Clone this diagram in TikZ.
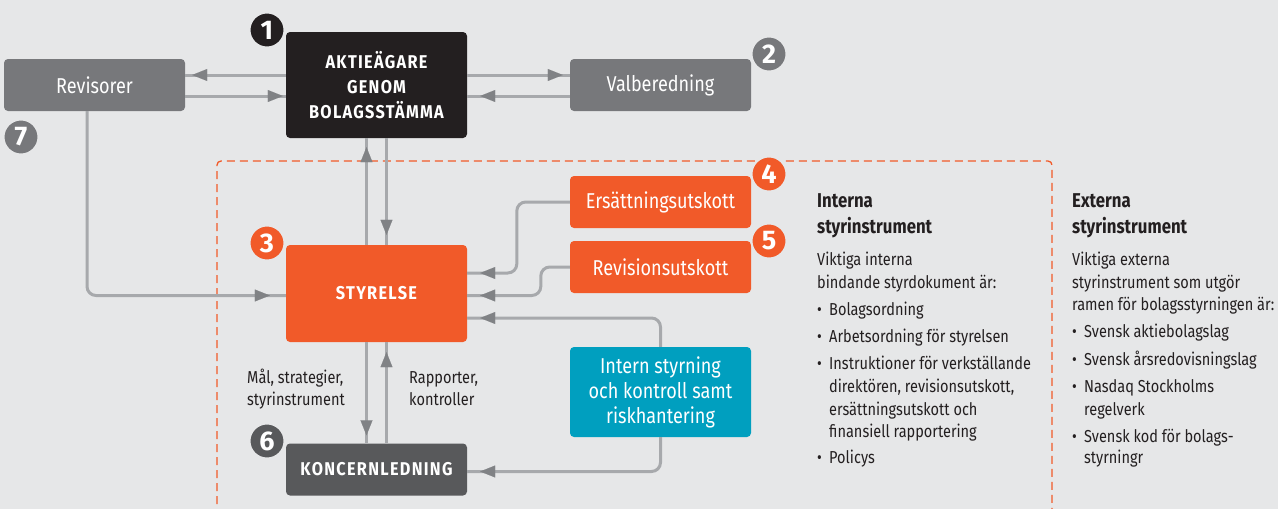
\documentclass[tikz,border=0pt]{standalone}
\usepackage{fontspec}
\setmainfont{Fira Sans}[FakeStretch=0.84]
\newfontfamily\capfont{Fira Sans}[FakeStretch=0.88,LetterSpace=7]
\newfontfamily\numfont{Fira Sans}
\usetikzlibrary{arrows.meta,decorations.markings}
\definecolor{bg}{HTML}{E6E7E8}
\definecolor{boxgray}{HTML}{77787B}
\definecolor{boxblack}{HTML}{231F20}
\definecolor{boxorange}{HTML}{F15A29}
\definecolor{boxteal}{HTML}{009FBF}
\definecolor{boxdark}{HTML}{58595B}
\definecolor{linegray}{HTML}{A7A9AC}
\definecolor{tipgray}{HTML}{808285}
\definecolor{txt}{HTML}{231F20}
\tikzset{
  x=1pt, y=-1pt,
  box/.style={rectangle, rounded corners=4pt, inner sep=0pt, minimum width=181pt, text=white, align=center},
  plainbox/.style={box, font=\fontsize{21.5}{25}\selectfont},
  capbox/.style={box, font=\capfont\bfseries\fontsize{18.5}{25}\selectfont},
  conn/.style={draw=linegray, line width=3pt, rounded corners=9pt,
    postaction={decorate},
    decoration={markings, mark=at position -#1 with {\arrow[color=tipgray,line width=0.1pt]{Triangle[length=15pt,width=12pt]}}}},
  conn/.default=8pt,
  badge/.style={circle, minimum size=35pt, inner sep=0pt, text=white, draw=bg, line width=2pt,
    font=\numfont\bfseries\fontsize{27}{27}\selectfont},
  body/.style={anchor=base west, inner sep=0pt, text=txt, font=\fontsize{17.3}{23}\selectfont},
  title/.style={anchor=base west, inner sep=0pt, text=txt, font=\bfseries\fontsize{20}{26}\selectfont},
}
\begin{document}
\begin{tikzpicture}
\useasboundingbox (0,0) rectangle (1278,509);
\fill[bg] (0,0) rectangle (1278,509);
\clip (0,0) rectangle (1278,509);

% dashed frame
\draw[boxorange, line width=1.3pt, dash pattern=on 8pt off 5pt, rounded corners=4pt]
  (217,530) -- (217,161) -- (1052,161) -- (1052,530);

% boxes
\node[plainbox, fill=boxgray, minimum height=52pt] (revisorer) at (94.5,85) {Revisorer};
\node[capbox, fill=boxblack, minimum height=106pt] (aktie) at (376.5,85) {AKTIEÄGARE\\GENOM\\BOLAGSSTÄMMA};
\node[plainbox, fill=boxgray, minimum height=52pt] (valb) at (660.5,85) {Valberedning};
\node[plainbox, fill=boxorange, minimum height=52pt] (ersatt) at (660.5,202) {Ersättningsutskott};
\node[plainbox, fill=boxorange, minimum height=52pt] (revutsk) at (660.5,267) {Revisionsutskott};
\node[capbox, fill=boxorange, minimum height=97pt] (styrelse) at (376.5,293.5) {STYRELSE};
\node[plainbox, fill=boxteal, minimum height=90pt] (intern) at (660.5,392) {Intern styrning\\och kontroll samt\\riskhantering};
\node[capbox, fill=boxdark, minimum height=52pt] (koncern) at (376.5,469.5) {KONCERNLEDNING};

% connectors
\draw[conn=7pt] ([yshift=10pt]aktie.west) -- ([yshift=10pt]revisorer.east);
\draw[conn=3pt] ([yshift=-11pt]revisorer.east) -- ([yshift=-11pt]aktie.west);
\draw[conn=7pt] ([yshift=10pt]aktie.east) -- ([yshift=10pt]valb.west);
\draw[conn=13pt] ([yshift=-11pt]valb.west) -- ([yshift=-11pt]aktie.east);
\draw[conn=9pt] ([xshift=-10pt]styrelse.north) -- ([xshift=-10pt]aktie.south);
\draw[conn=10pt] ([xshift=10pt]aktie.south) -- ([xshift=10pt]styrelse.north);
\draw[conn=8pt] ([xshift=-10pt]styrelse.south) -- ([xshift=-10pt]koncern.north);
\draw[conn=10pt] ([xshift=10pt]koncern.north) -- ([xshift=10pt]styrelse.south);
\draw[conn=16pt] ([xshift=-7.5pt]revisorer.south) |- ([yshift=-2pt]styrelse.west);
\draw[conn=13pt] (ersatt.west) -- ++(-53,0) |- ([yshift=20.5pt]styrelse.east);
\draw[conn=13pt] (revutsk.west) -- ++(-29,0) |- ([yshift=-2pt]styrelse.east);
\draw[conn=13pt] (intern.north) |- ([yshift=-24.5pt]styrelse.east);
\draw[conn=13pt] (intern.south) |- ([yshift=-2pt]koncern.east);

% badges
\node[badge, fill=boxblack] (n1) at (267,30) {1};
\node[badge, fill=boxgray] (n2) at (769,54) {2};
\node[badge, fill=boxorange] (n3) at (267,243) {3};
\node[badge, fill=boxorange] (n4) at (769,174) {4};
\node[badge, fill=boxorange] (n5) at (769,241) {5};
\node[badge, fill=boxdark] (n6) at (267,441) {6};
\node[badge, fill=boxgray] (n7) at (21,137) {7};

% edge labels
\node[body] (lab1a) at (247,383) {Mål, strategier,};
\node[body] (lab1b) at (247,405) {styrinstrument};
\node[body] (lab2a) at (409,383) {Rapporter,};
\node[body] (lab2b) at (409,405) {kontroller};

% internal column
\node[title] (it1) at (817,207) {Interna};
\node[title] (it2) at (817,233) {styrinstrument};
\foreach \y/\t in {265/Viktiga interna, 288/{bindande styrdokument är:}}
  \node[body] at (817,\y) {\t};
\foreach \y/\t in {315/Bolagsordning, 342/{Arbetsordning för styrelsen}, 369/{Instruktioner för verkställande}, 463/Policys}
  \node[body] at (817,\y) {\makebox[12pt][l]{•}\t};
\foreach \y/\t in {392/{direktören, revisionsutskott,}, 415/{ersättningsutskott och}, 437/{finansiell rapportering}}
  \node[body] at (829,\y) {\t};

% external column
\node[title] (et1) at (1072,207) {Externa};
\node[title] (et2) at (1072,233) {styrinstrument};
\foreach \y/\t in {265/Viktiga externa, 288/{styrinstrument som utgör}, 310/{ramen för bolagsstyrningen är:}}
  \node[body] at (1072,\y) {\t};
\foreach \y/\t in {337/{Svensk aktiebolagslag}, 365/{Svensk årsredovisningslag}, 392/{Nasdaq Stockholms}, 442/{Svensk kod för bolags-}}
  \node[body] at (1072,\y) {\makebox[12pt][l]{•}\t};
\foreach \y/\t in {415/regelverk, 463/styrningr}
  \node[body] at (1084,\y) {\t};
\end{tikzpicture}
\end{document}
